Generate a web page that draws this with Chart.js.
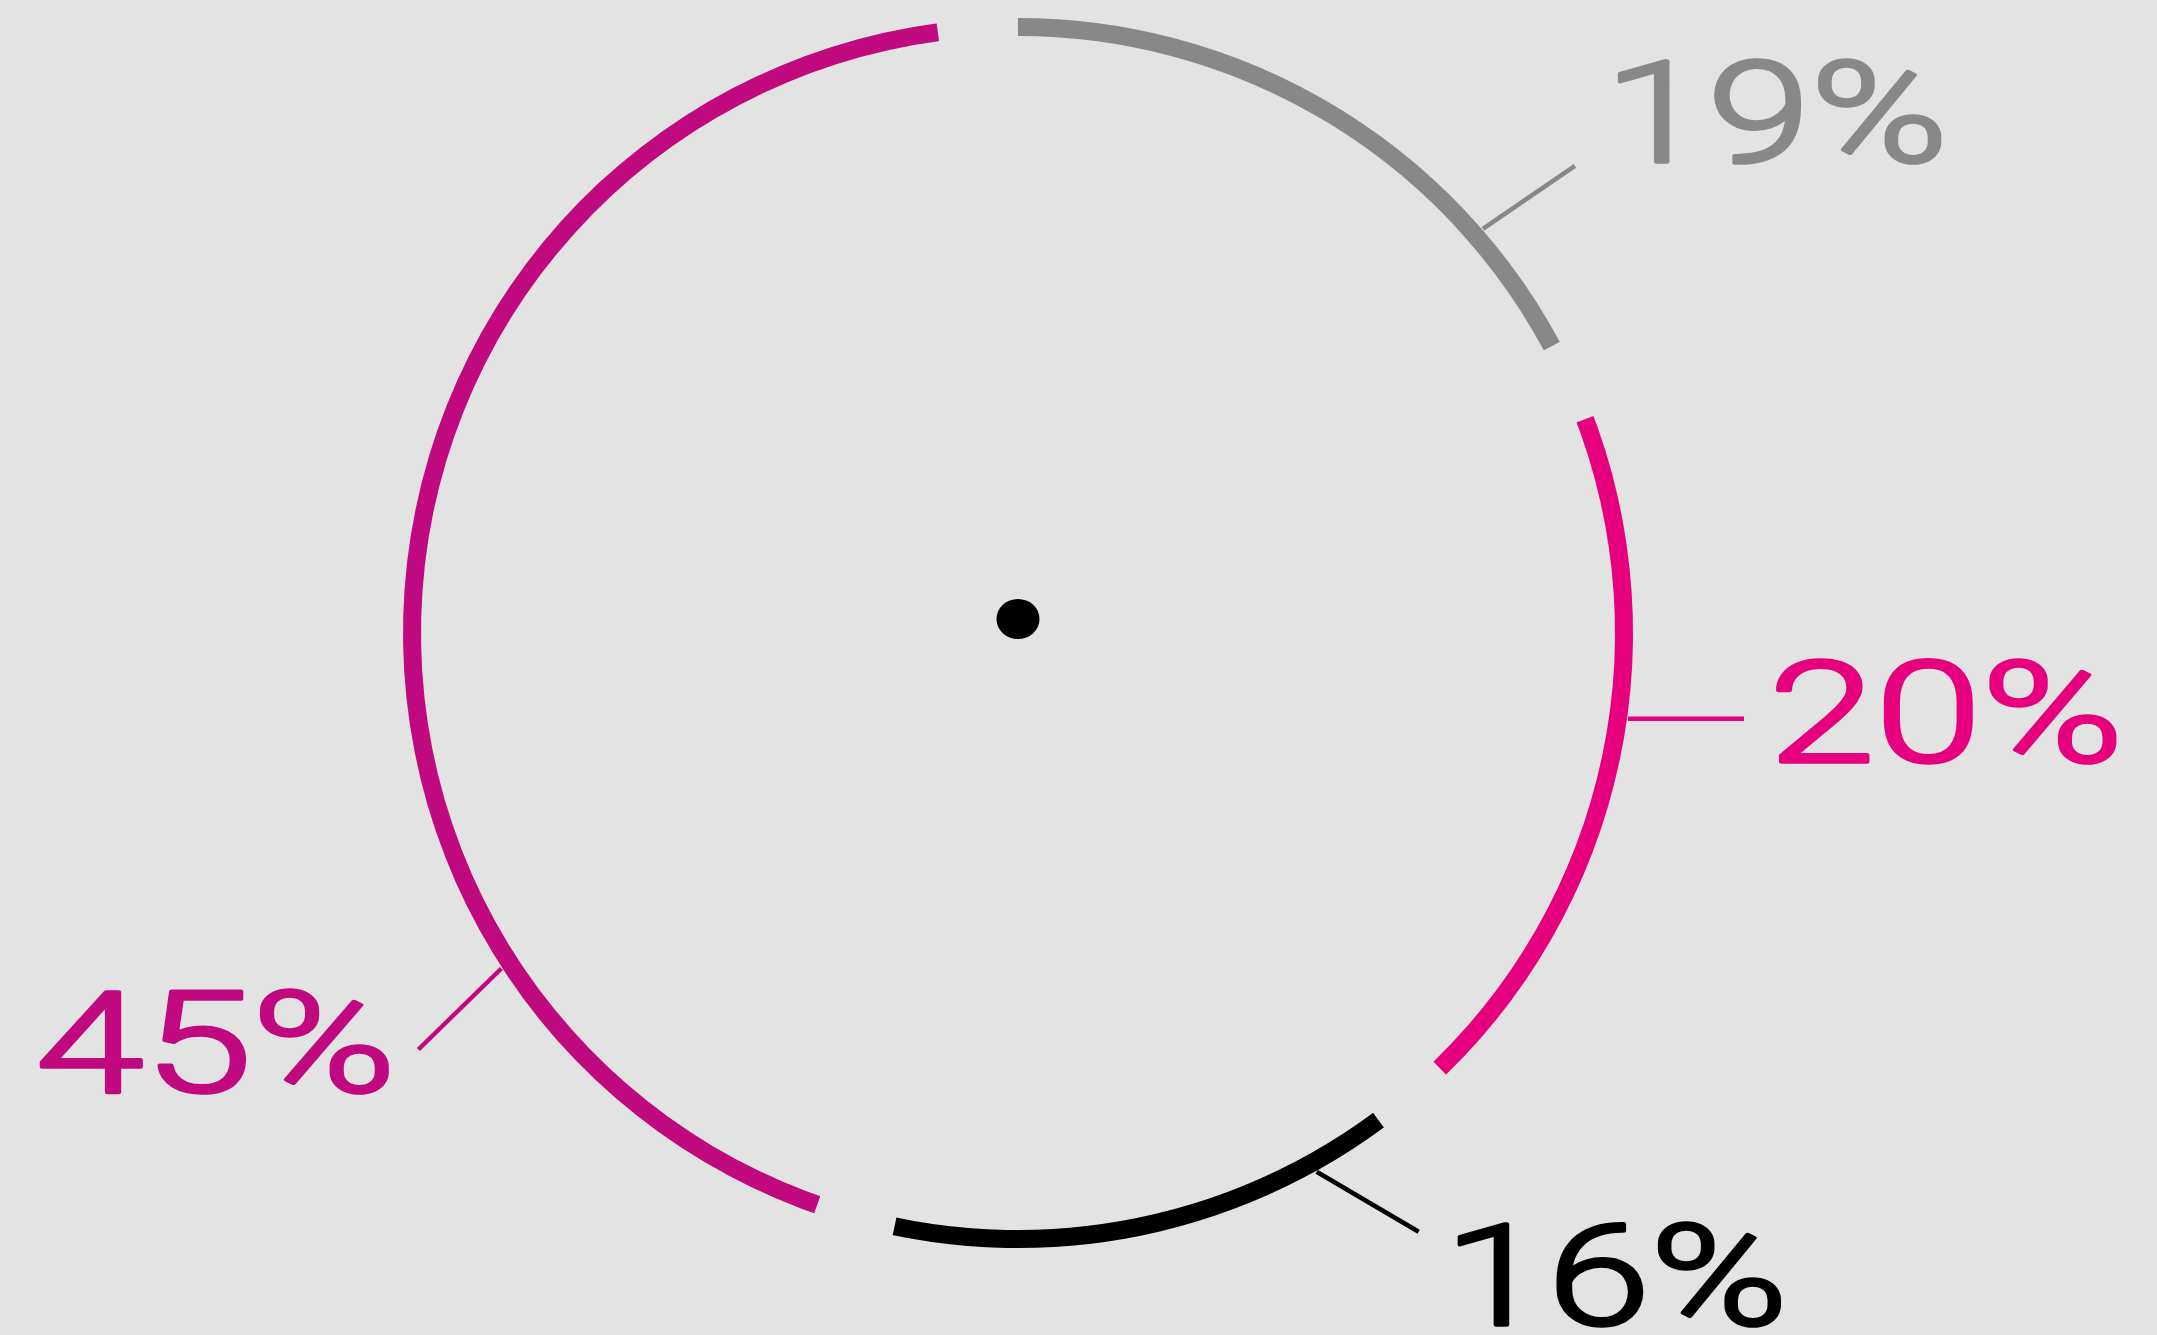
<!DOCTYPE html>
<html>
<head>
<meta charset="utf-8">
<script src="https://cdn.jsdelivr.net/npm/chart.js@4.4.1/dist/chart.umd.min.js"></script>
<style>
  html, body { margin: 0; padding: 0; background: #e3e3e3; }
  #wrap { width: 2157px; height: 1335px; position: relative; }
</style>
</head>
<body>
<div id="wrap"><canvas id="chartCanvas"></canvas></div>
<script>
// shares, clockwise from 12 o'clock
const categories = ['A', 'B', 'C', 'D'];
const shares = [19, 20, 16, 45];
const labels = ['19%', '20%', '16%', '45%'];
const colors = ['#888888', '#e6007e', '#000000', '#c0087f'];

// label layout: angle (deg, clockwise from top) where the leader leaves the ring,
// leader vector in px, and label placement relative to leader end
const LABEL_LAYOUT = [
  { at: 49,  dx: 92,  dy: -63, align: 'left',  ox: 43,  oy: -54, w: 324 },
  { at: 98,  dx: 116, dy: 0,   align: 'left',  ox: 32,  oy: -8,  w: 341 },
  { at: 151, dx: 102, dy: 60,  align: 'left',  ox: 39,  oy: 43,  w: 324 },
  { at: 237, dx: -83, dy: 81,  align: 'right', ox: -29, oy: -8,  w: 350 }
];
// gap cut at the start of each arc: width and small shift (deg)
const GAP_DEG = 7.6;
const GAP_SHIFT = [-1.35, -0.4, 1.75, 0];
const RING_OUTER = 615;
const RING_INNER = 597;
const DOT = { dy: -14, rx: 21.5, ry: 20 };

const rad = (d) => d * Math.PI / 180;

// cuts the gaps between arcs, draws centre dot, leaders and labels
const decorations = {
  id: 'decorations',
  afterDatasetsDraw(chart) {
    const ctx = chart.ctx;
    const arcs = chart.getDatasetMeta(0).data;
    if (!arcs.length) return;
    const { x, y, innerRadius, outerRadius } = arcs[0];

    // gaps
    ctx.save();
    ctx.globalCompositeOperation = 'destination-out';
    const h = rad(GAP_DEG) / 2;
    arcs.forEach((a, i) => {
      const s = a.startAngle + rad(GAP_SHIFT[i] || 0);
      ctx.beginPath();
      ctx.arc(x, y, outerRadius + 3, s - h, s + h);
      ctx.arc(x, y, Math.max(innerRadius - 3, 0), s + h, s - h, true);
      ctx.closePath();
      ctx.fill();
    });
    ctx.restore();

    // centre dot
    ctx.save();
    ctx.fillStyle = '#000';
    ctx.beginPath();
    ctx.ellipse(x, y + DOT.dy, DOT.rx, DOT.ry, 0, 0, Math.PI * 2);
    ctx.fill();
    ctx.restore();

    // leaders and labels
    LABEL_LAYOUT.forEach((L, i) => {
      const t = rad(L.at);
      const sx = x + Math.sin(t) * (outerRadius + 1);
      const sy = y - Math.cos(t) * (outerRadius + 1);
      const ex = sx + L.dx, ey = sy + L.dy;
      ctx.save();
      ctx.strokeStyle = colors[i];
      ctx.lineWidth = 4.5;
      ctx.beginPath();
      ctx.moveTo(sx, sy);
      ctx.lineTo(ex, ey);
      ctx.stroke();

      ctx.font = '300 141px Roboto, "DejaVu Sans", sans-serif';
      ctx.fillStyle = colors[i];
      ctx.textBaseline = 'alphabetic';
      const m = ctx.measureText(labels[i]);
      const tw = m.actualBoundingBoxLeft + m.actualBoundingBoxRight;
      const th = m.actualBoundingBoxAscent + m.actualBoundingBoxDescent;
      const k = (L.w - 4) / tw;
      const left = (L.align === 'left' ? ex + L.ox : ex + L.ox - L.w) + 2;
      const base = ey + L.oy + th / 2 - m.actualBoundingBoxDescent;
      ctx.translate(left, base);
      ctx.scale(k, 1);
      ctx.textAlign = 'left';
      ctx.lineWidth = 3.6;
      ctx.lineJoin = 'round';
      ctx.fillText(labels[i], m.actualBoundingBoxLeft, 0);
      ctx.strokeText(labels[i], m.actualBoundingBoxLeft, 0);
      ctx.restore();
    });
  }
};

const chart = new Chart(document.getElementById('chartCanvas'), {
  type: 'doughnut',
  data: {
    labels: categories,
    datasets: [{
      data: shares,
      backgroundColor: colors,
      borderWidth: 0,
      hoverOffset: 0
    }]
  },
  options: {
    responsive: true,
    maintainAspectRatio: false,
    animation: false,
    rotation: -2.45,
    radius: RING_OUTER,
    cutout: (RING_INNER / RING_OUTER * 100) + '%',
    layout: { padding: { left: 0, right: 121, top: 0, bottom: 69 } },
    plugins: {
      legend: { display: false },
      tooltip: { enabled: false }
    }
  },
  plugins: [decorations]
});
</script>
</body>
</html>
